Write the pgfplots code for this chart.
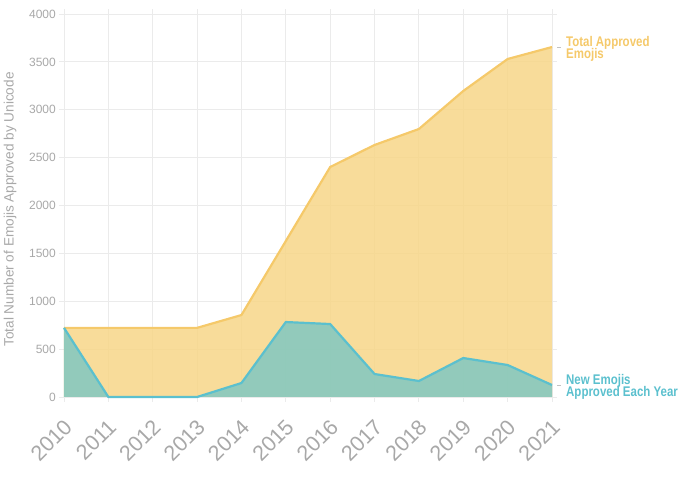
\documentclass[border=0pt]{standalone}
\usepackage{pgfplots}
\pgfplotsset{compat=1.18}
\usepackage{fontspec}
\setmainfont{Liberation Sans}
\newfontfamily\condfont[FakeStretch=0.82]{Liberation Sans}
\definecolor{totfill}{HTML}{F7D688}
\definecolor{totline}{HTML}{F5C96A}
\definecolor{newfill}{HTML}{80C8C1}
\definecolor{newline}{HTML}{5BC0CE}
\definecolor{txtgray}{HTML}{A8A8A8}
\definecolor{gridc}{HTML}{EBEBEB}
\pgfplotstableread{
year total new
2010 722 722
2011 722 0
2012 722 0
2013 722 0
2014 856 146
2015 1629 783
2016 2402 762
2017 2632 240
2018 2799 167
2019 3196 407
2020 3530 334
2021 3655 125
}\emojidata
\begin{document}
\begin{tikzpicture}
\begin{axis}[
  at={(64pt,85pt)}, anchor=south west,
  scale only axis, width=488pt, height=383pt,
  xmin=2010, xmax=2021, ymin=0, ymax=4000,
  xtick={2010,...,2021},
  ytick={0,500,...,4000},
  x tick label style={/pgf/number format/1000 sep={}},
  xticklabel style={rotate=45, anchor=east, inner sep=0pt, xshift=-12pt, yshift=-18pt, font=\fontsize{21.5}{22}\selectfont, text=txtgray},
  yticklabel style={font=\fontsize{12}{12}\selectfont, text=txtgray, inner sep=0pt, xshift=-3pt},
  /pgf/number format/assume math mode=true,
  scaled y ticks=false,
  y tick label style={/pgf/number format/1000 sep={}},
  grid=major,
  major grid style={gridc, line width=0.8pt},
  axis line style={draw=none},
  tick align=outside, major tick length=5pt,
  tick style={gridc, line width=0.8pt},
  clip=false,
]
\addplot[fill=totfill, fill opacity=0.85, draw=none] table[x=year,y=total]{\emojidata} \closedcycle;
\addplot[totline, line width=2.2pt, line join=round] table[x=year,y=total]{\emojidata};
\addplot[fill=newfill, fill opacity=0.85, draw=none] table[x=year,y=new]{\emojidata} \closedcycle;
\addplot[newline, line width=2.2pt, line join=round] table[x=year,y=new]{\emojidata};
\node[rotate=90, anchor=center, text=txtgray, font=\fontsize{13.6}{14}\selectfont] at ([xshift=-54pt,yshift=-4pt]axis description cs:0,0.5) {Total Number of Emojis Approved by Unicode};
\draw[txtgray!70, line width=0.6pt] ([xshift=5pt]axis cs:2021,3655) -- ([xshift=9pt]axis cs:2021,3655);
\node[anchor=west, align=left, inner sep=0pt, text=totline, font=\condfont\bfseries\fontsize{14}{12}\selectfont] at ([xshift=14pt,yshift=-1.5pt]axis cs:2021,3655) {Total Approved\\[-2pt]Emojis};
\draw[txtgray!70, line width=0.6pt] ([xshift=5pt]axis cs:2021,125) -- ([xshift=9pt]axis cs:2021,125);
\node[anchor=west, align=left, inner sep=0pt, text=newline, font=\condfont\bfseries\fontsize{14}{12}\selectfont] at ([xshift=14pt,yshift=-2pt]axis cs:2021,125) {New Emojis\\[-1.5pt]Approved Each Year};
\end{axis}
\pgfresetboundingbox
\path (0,0) rectangle (689pt,482pt);
\end{tikzpicture}
\end{document}
